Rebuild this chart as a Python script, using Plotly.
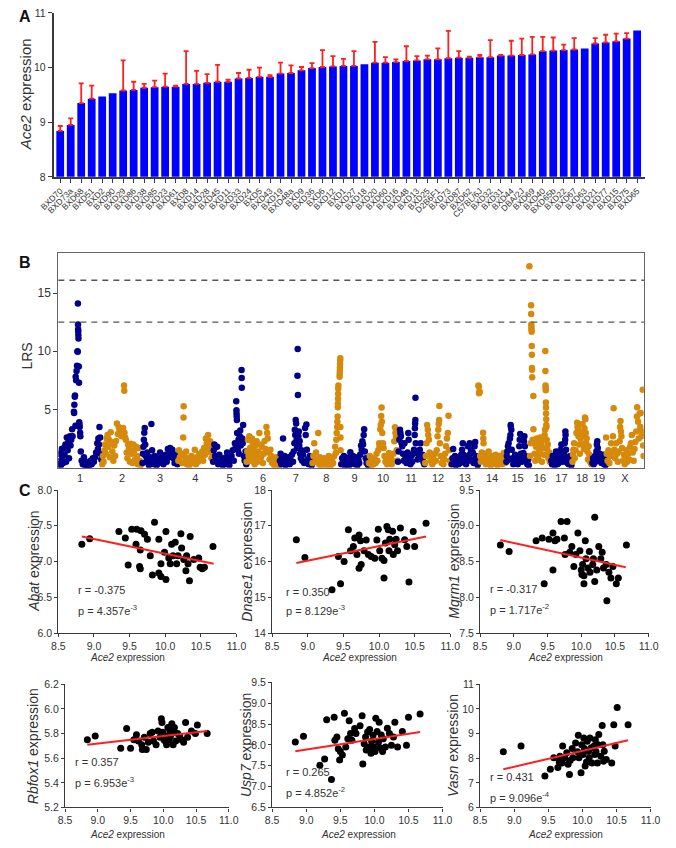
import plotly.graph_objects as go

# ─── DADOS ───────────────────────────────────────────────────
STRAINS = [
    "BXD70", "BXD73a", "BXD68", "BXD51", "BXD2", "BXD90", "BXD29", "BXD86",
    "BXD38", "BXD85", "BXD23", "BXD61", "BXD8", "BXD14", "BXD28", "BXD45",
    "BXD11", "BXD33", "BXD24", "BXD5", "BXD43", "BXD19", "BXD48a", "BXD9",
    "BXD36", "BXD6", "BXD12", "BXD1", "BXD27", "BXD18", "BXD20", "BXD60",
    "BXD16", "BXD48", "BXD13", "BXD25", "D2B6F1", "BXD73", "BXD87", "BXD62",
    "C57BL/6J", "BXD32", "BXD31", "BXD44", "DBA/2J", "BXD69", "BXD40", "BXD65b",
    "BXD22", "BXD67", "BXD63", "BXD21", "BXD77", "BXD15", "BXD75", "BXD65",
]
ACE2_MEAN = [
    8.84, 8.95, 9.35, 9.43, 9.47, 9.53, 9.58, 9.59, 9.63, 9.64, 9.65, 9.65,
    9.70, 9.70, 9.72, 9.74, 9.74, 9.80, 9.81, 9.83, 9.83, 9.89, 9.90, 9.95,
    9.99, 10.01, 10.02, 10.03, 10.03, 10.06, 10.09, 10.09, 10.10, 10.12, 10.13, 10.15,
    10.15, 10.17, 10.18, 10.18, 10.19, 10.19, 10.22, 10.22, 10.23, 10.24, 10.30, 10.31,
    10.32, 10.33, 10.35, 10.44, 10.46, 10.48, 10.53, 10.68,
]
ACE2_SEM = [
    0.09, 0.12, 0.36, 0.24, 0.0, 0.0, 0.55, 0.15, 0.07, 0.12, 0.24, 0.02,
    0.60, 0.24, 0.16, 0.31, 0.04, 0.10, 0.15, 0.17, 0.03, 0.20, 0.14, 0.06,
    0.09, 0.31, 0.19, 0.13, 0.27, 0.0, 0.38, 0.10, 0.05, 0.27, 0.08, 0.07,
    0.20, 0.50, 0.12, 0.02, 0.04, 0.31, 0.01, 0.27, 0.30, 0.32, 0.26, 0.24,
    0.10, 0.21, 0.0, 0.10, 0.14, 0.14, 0.10, 0.0,
]

CHROMS = ["1", "2", "3", "4", "5", "6", "7", "8", "9", "10",
          "11", "12", "13", "14", "15", "16", "17", "18", "19", "X"]
CHR_LEN_MB = [195.5, 182.1, 160.0, 156.5, 151.8, 149.7, 145.4, 129.4, 124.6, 130.7,
              122.1, 120.1, 120.4, 124.9, 104.0, 98.2, 94.9, 90.7, 61.4, 171.0]

# (posição Mb, LRS) por cromossomo
CHR1 = [(2, 0.3), (5, 1.2), (8, 0.6), (12, 0.2), (15, 1.6), (18, 0.9), (22, 0.4), (25, 1.7),
        (28, 1.1), (32, 2.0), (35, 0.5), (38, 2.6), (42, 1.5), (45, 2.2), (48, 0.8), (52, 2.7),
        (55, 1.9), (58, 2.4), (62, 3.3), (64, 2.7), (70, 4.8), (71, 4.7), (72, 5.4), (74, 6.1),
        (75, 6.2), (77, 3.6), (78, 7.8), (80, 7.5), (82, 8.3), (84, 8.75), (86, 10.0), (87, 9.95),
        (88, 14.1), (88.5, 12.3), (89, 11.9), (89.5, 11.7), (90, 11.4), (90.5, 11.1), (92, 8.7),
        (93, 7.3), (94, 3.9), (95, 3.7), (96, 3.5), (98, 3.0), (99, 2.7), (101, 1.4), (105, 0.6),
        (110, 0.3), (115, 0.9), (120, 0.2), (125, 0.5), (130, 0.1), (135, 0.4), (140, 0.2),
        (145, 0.6), (150, 0.3), (155, 0.8), (160, 0.5), (165, 0.9), (170, 1.3), (175, 2.1),
        (178, 1.6), (180, 2.5), (183, 2.0), (185, 3.5), (188, 2.6), (190, 1.2), (193, 0.7)]
CHR2 = [(2, 0.3), (5, 1.0), (8, 0.5), (12, 1.5), (15, 2.0), (18, 1.2), (22, 2.5), (26, 2.8),
        (29, 1.8), (32, 2.4), (36, 0.9), (40, 3.05), (43, 2.2), (47, 1.4), (52, 0.6), (56, 1.9),
        (60, 1.0), (64, 2.3), (68, 3.8), (72, 2.9), (76, 3.5), (80, 3.2), (84, 3.3), (88, 2.7),
        (92, 3.1), (96, 3.4), (100, 7.05), (101, 6.6), (102, 3.0), (105, 2.6), (108, 2.4),
        (112, 1.3), (115, 0.8), (118, 2.0), (122, 1.6), (126, 0.5), (130, 2.06), (134, 1.2),
        (138, 0.4), (142, 2.0), (146, 1.5), (150, 0.7), (154, 1.8), (158, 1.0), (162, 0.3),
        (166, 1.7), (170, 0.6), (175, 0.2), (180, 0.4)]
CHR3 = [(1, 0.4), (3, 1.2), (5, 1.8), (7, 2.4), (9, 3.0), (11, 3.4), (13, 2.0), (15, 1.0),
        (18, 0.5), (22, 1.3), (26, 0.7), (30, 0.2), (35, 0.9), (41, 3.75), (44, 1.5), (48, 0.6),
        (52, 0.3), (56, 1.0), (60, 0.5), (65, 0.2), (70, 0.8), (75, 0.4), (80, 1.3), (85, 0.6),
        (90, 1.0), (95, 0.3), (100, 0.7), (105, 1.1), (110, 0.5), (115, 1.6), (120, 0.9),
        (125, 1.7), (130, 1.2), (135, 1.55), (140, 0.8), (145, 0.4), (150, 1.1), (155, 0.6),
        (158, 0.3)]
CHR4 = [(2, 0.6), (5, 1.5), (9, 0.9), (14, 1.2), (19, 0.4), (24, 2.6), (25.5, 4.3), (26, 5.28),
        (29, 1.0), (33, 0.5), (37, 1.4), (41, 0.3), (46, 0.8), (51, 0.2), (56, 0.6), (61, 1.0),
        (66, 0.4), (71, 0.7), (76, 1.55), (81, 0.3), (86, 0.9), (91, 0.5), (96, 1.2), (101, 0.7),
        (106, 1.0), (110, 1.4), (114, 0.6), (118, 1.7), (122, 1.1), (126, 2.5), (130, 2.1),
        (133, 1.6), (136, 2.8), (139, 2.3), (142, 1.9), (145, 2.26), (148, 1.3), (151, 0.8),
        (154, 2.0)]
CHR5 = [(2, 0.5), (5, 1.5), (8, 2.0), (11, 1.0), (15, 0.6), (20, 1.8), (25, 0.3), (30, 1.1),
        (35, 0.4), (40, 0.8), (45, 0.2), (50, 0.6), (55, 0.3), (60, 0.9), (65, 1.3), (70, 0.5),
        (75, 0.2), (80, 0.7), (85, 1.0), (90, 1.5), (95, 0.6), (100, 2.1), (104, 1.8), (106, 5.7),
        (107, 4.94), (107.5, 4.66), (108, 4.4), (109, 4.1), (110, 2.97), (113, 1.55), (116, 2.4),
        (118, 1.2), (122, 2.7), (124, 3.2), (126, 1.9), (130, 8.4), (130.5, 7.7), (131, 6.86),
        (133, 2.5), (135, 2.1), (137, 3.67), (140, 1.0), (144, 0.6), (148, 1.4), (151, 0.3)]
CHR6 = [(1, 0.5), (4, 1.4), (7, 2.4), (10, 1.0), (13, 2.7), (16, 1.7), (19, 0.6), (22, 1.2),
        (25, 2.5), (28, 2.1), (31, 0.8), (34, 1.5), (37, 0.3), (40, 1.9), (43, 1.0), (46, 2.26),
        (50, 0.5), (54, 1.4), (58, 2.97), (62, 2.0), (66, 0.9), (70, 1.8), (74, 0.4), (78, 1.2),
        (82, 2.3), (86, 1.6), (90, 3.5), (93, 2.97), (96, 2.5), (100, 1.3), (104, 0.7),
        (108, 1.55), (112, 1.0), (116, 0.4), (120, 0.8), (125, 0.2), (130, 0.5), (135, 0.9),
        (140, 0.3), (145, 0.6), (148, 0.2)]
CHR7 = [(1, 0.6), (4, 1.2), (7, 0.3), (10, 0.9), (15, 2.5), (18, 0.5), (22, 1.0), (26, 0.2),
        (30, 0.7), (35, 0.4), (40, 0.9), (45, 0.3), (50, 0.6), (55, 1.1), (60, 0.5), (63, 1.4),
        (66, 2.1), (68, 3.25), (70, 2.8), (72, 4.1), (74, 3.8), (76, 2.4), (78, 1.7), (80, 7.9),
        (81, 10.2), (82, 6.24), (84, 2.7), (86, 3.1), (88, 1.9), (90, 2.3), (92, 1.2), (95, 0.8),
        (98, 1.5), (101, 0.6), (105, 1.1), (110, 0.4), (114, 3.4), (117, 2.8), (120, 3.7),
        (122, 1.55), (126, 0.7), (130, 0.3), (135, 1.0), (140, 0.5), (144, 0.2)]
CHR8 = [(2, 0.4), (6, 1.0), (10, 2.1), (14, 0.5), (18, 1.3), (22, 0.7), (28, 2.97), (32, 0.3),
        (36, 0.9), (40, 0.2), (45, 0.6), (50, 0.3), (55, 0.8), (60, 0.4), (65, 0.2), (70, 0.6),
        (75, 1.0), (80, 0.5), (85, 0.2), (90, 0.7), (95, 0.4), (100, 1.0), (104, 1.8), (107, 1.27),
        (109, 2.4), (111, 2.97), (113, 3.5), (114, 3.95), (115, 4.4), (116, 5.2), (116.5, 5.5),
        (117, 5.93), (117.5, 6.36), (118, 6.8), (118.5, 7.06), (120, 3.5), (124, 7.8),
        (124.5, 8.05), (125, 8.3), (125.5, 8.6), (126, 8.9), (126.5, 9.2), (127, 9.4),
        (127.5, 3.5), (128, 2.6), (128.5, 1.5)]
CHR9 = [(2, 0.3), (6, 0.8), (10, 0.4), (14, 1.0), (18, 0.2), (22, 0.6), (26, 0.3), (30, 0.85),
        (34, 0.5), (38, 0.2), (43, 1.33), (47, 0.7), (51, 0.4), (55, 1.0), (59, 0.6), (63, 0.3),
        (67, 0.9), (71, 0.5), (75, 0.2), (79, 0.7), (83, 0.4), (87, 1.1), (91, 1.9), (94, 1.55),
        (97, 2.26), (100, 2.0), (103, 2.8), (105, 3.3), (108, 1.4), (112, 0.8), (116, 0.4),
        (120, 0.6), (123, 0.2)]
CHR10 = [(2, 0.4), (6, 1.0), (10, 0.5), (14, 0.2), (18, 0.8), (22, 0.3), (27, 0.7), (32, 0.4),
         (36, 1.2), (40, 0.6), (44, 1.5), (48, 2.1), (50, 1.84), (53, 3.3), (55, 3.67),
         (57, 4.44), (59, 5.17), (60, 3.95), (62, 2.97), (65, 2.1), (68, 1.7), (72, 1.0),
         (76, 0.5), (80, 0.8), (84, 0.3), (88, 0.6), (92, 1.27), (96, 0.4), (100, 0.9),
         (104, 0.3), (108, 0.6), (112, 1.2), (116, 2.26), (119, 3.47), (121, 3.0), (124, 2.7),
         (127, 1.5), (130, 0.6)]
CHR11 = [(2, 0.5), (5, 1.4), (8, 2.4), (11, 3.25), (13, 2.97), (15, 2.7), (18, 2.1), (21, 1.84),
         (24, 1.2), (28, 0.6), (31, 2.1), (35, 1.0), (40, 0.4), (45, 1.3), (48, 2.97), (50, 2.4),
         (54, 0.8), (58, 0.3), (62, 1.0), (66, 0.5), (70, 1.2), (74, 1.55), (77, 2.8),
         (78, 3.39), (79, 3.8), (80, 4.1), (80.5, 6.0), (82, 2.1), (85, 1.4), (90, 0.7),
         (95, 1.1), (100, 1.55), (104, 2.1), (108, 0.9), (112, 1.1), (116, 0.5), (120, 0.3)]
CHR12 = [(2, 0.4), (5, 1.0), (8, 2.1), (11, 3.67), (14, 3.25), (16, 2.8), (19, 2.4), (22, 1.3),
         (26, 0.6), (30, 1.0), (34, 0.3), (38, 0.8), (42, 0.5), (46, 1.2), (50, 0.6), (54, 1.5),
         (58, 2.7), (61, 3.25), (63, 3.76), (65, 4.1), (66, 5.3), (68, 2.1), (72, 1.0),
         (76, 0.4), (80, 0.9), (84, 0.3), (88, 0.7), (92, 1.2), (96, 1.84), (100, 2.5),
         (104, 2.97), (107, 4.46), (110, 1.5), (114, 0.6), (118, 0.3)]
CHR13 = [(2, 0.3), (5, 0.8), (8, 1.6), (12, 0.4), (16, 1.0), (20, 0.2), (24, 0.6), (28, 0.9),
         (32, 0.3), (36, 0.7), (40, 0.4), (44, 1.1), (48, 1.55), (51, 2.1), (54, 1.1), (58, 0.5),
         (62, 0.8), (66, 0.3), (70, 1.0), (74, 1.84), (78, 0.6), (82, 2.1), (85, 1.2),
         (88, 1.55), (92, 0.7), (96, 1.3), (100, 0.4), (104, 1.84), (107, 2.2), (110, 1.0),
         (114, 0.5), (118, 0.2)]
CHR14 = [(1, 7.06), (3, 6.98), (4, 6.4), (5, 6.55), (6.5, 6.5), (9, 1.0), (12, 0.5), (16, 1.3),
         (19, 0.7), (22, 3.0), (23, 2.5), (24, 2.1), (27, 1.2), (31, 0.6), (35, 0.3), (39, 0.9),
         (43, 0.4), (47, 1.4), (51, 0.7), (55, 0.2), (59, 0.6), (63, 1.0), (67, 0.3), (71, 0.8),
         (75, 0.4), (79, 1.1), (83, 0.5), (87, 0.2), (91, 0.7), (95, 1.0), (99, 0.4), (103, 0.8),
         (107, 0.3), (111, 0.6), (115, 1.27), (118, 0.9), (122, 0.4)]
CHR15 = [(2, 0.5), (4, 1.0), (6, 1.4), (9, 1.84), (12, 2.1), (15, 0.7), (18, 2.5), (20, 2.8),
         (21, 3.67), (22, 3.5), (24, 3.25), (26, 1.55), (29, 0.8), (33, 0.3), (37, 0.6),
         (41, 1.1), (45, 0.4), (49, 0.8), (53, 0.3), (57, 1.0), (60, 1.84), (62, 2.4), (64, 2.9),
         (67, 1.2), (71, 0.5), (75, 0.9), (78, 1.27), (81, 2.26), (83, 2.7), (85, 1.84),
         (88, 1.0), (92, 0.5), (96, 0.3), (100, 0.7), (103, 0.2)]
CHR16 = [(1.5, 17.3), (4, 1.0), (7, 2.1), (9, 13.95), (9.5, 13.2), (10, 12.3), (10.5, 12.06),
         (11, 11.86), (11.5, 11.67), (12, 10.45), (12.5, 9.7), (13, 8.56), (13.5, 8.42),
         (14, 7.77), (16, 2.4), (19, 6.16), (19.5, 3.3), (22, 2.1), (25, 1.2), (28, 0.6),
         (31, 1.8), (34, 2.5), (37, 1.0), (40, 2.2), (43, 0.7), (46, 1.5), (49, 2.6), (52, 1.2),
         (55, 2.0), (58, 0.5), (61, 1.7), (64, 2.4), (67, 1.1), (70, 2.8), (72, 3.25),
         (73, 10.03), (73.5, 8.3), (74, 7.06), (74.5, 6.86), (75, 6.64), (75.5, 5.6), (76, 5.17),
         (76.5, 4.66), (77, 4.15), (77.5, 3.67), (78, 3.5), (79, 2.4), (81, 1.6), (84, 2.0),
         (87, 0.8), (90, 1.3), (93, 0.5), (96, 0.9)]
CHR17 = [(2, 0.6), (5, 0.3), (8, 1.0), (11, 0.5), (14, 0.8), (17, 0.2), (20, 1.0), (23, 1.4),
         (26, 0.6), (29, 0.3), (32, 0.9), (35, 0.4), (38, 1.2), (41, 0.7), (44, 1.55), (47, 2.0),
         (50, 1.0), (53, 0.5), (56, 0.8), (59, 1.2), (62, 2.1), (64, 2.4), (65, 3.1), (66, 2.8),
         (68, 1.55), (71, 0.9), (74, 0.4), (77, 0.7), (80, 0.3), (83, 0.6), (86, 1.0), (89, 0.4),
         (92, 0.2)]
CHR18 = [(2, 0.5), (4, 1.13), (6, 1.55), (9, 2.1), (12, 0.8), (16, 1.5), (20, 2.97), (23, 3.86),
         (25, 3.5), (27, 3.25), (29, 2.7), (32, 2.0), (35, 1.2), (38, 2.5), (41, 3.0), (44, 2.1),
         (47, 3.76), (50, 2.7), (53, 1.6), (56, 3.39), (58, 4.3), (60, 4.15), (62, 2.97),
         (64, 2.1), (66, 2.5), (69, 1.4), (72, 0.7), (75, 1.84), (78, 1.1), (81, 0.5), (84, 0.9),
         (87, 0.3), (90, 0.6)]
CHR19 = [(1, 0.4), (4, 0.8), (7, 0.3), (10, 0.6), (13, 1.0), (16, 0.5), (19, 1.4), (21, 2.0),
         (23, 2.26), (25, 1.7), (27, 1.27), (30, 0.9), (33, 1.2), (36, 0.6), (39, 1.0), (42, 0.4),
         (45, 0.8), (48, 1.1), (51, 0.5), (54, 0.3), (57, 0.7), (60, 0.2)]
CHRX = [(1, 2.6), (4, 1.2), (8, 0.6), (12, 1.5), (16, 0.4), (20, 1.0), (24, 2.1), (28, 1.3),
        (32, 2.7), (35, 5.1), (38, 1.55), (42, 0.8), (46, 2.1), (50, 1.2), (54, 0.5), (58, 1.4),
        (62, 2.26), (64, 3.5), (66, 4.0), (68, 3.1), (70, 2.7), (73, 1.7), (77, 0.6), (81, 1.1),
        (85, 0.3), (89, 0.9), (93, 1.5), (97, 0.5), (101, 1.2), (105, 0.7), (109, 1.8),
        (113, 2.1), (117, 2.8), (121, 1.3), (125, 0.6), (129, 1.6), (133, 2.2), (137, 3.1),
        (140, 4.4), (141, 5.2), (145, 3.95), (148, 2.5), (152, 4.66), (155, 3.5), (157, 4.7),
        (160, 2.7), (163, 3.1), (166, 6.7), (168, 1.9), (170, 1.0)]
LRS_POINTS = [CHR1, CHR2, CHR3, CHR4, CHR5, CHR6, CHR7, CHR8, CHR9, CHR10,
              CHR11, CHR12, CHR13, CHR14, CHR15, CHR16, CHR17, CHR18, CHR19, CHRX]
LRS_SUGGESTIVE = 12.5
LRS_SIGNIFICANT = 16.1

# correlações (Ace2, gene)
ABAT = [(8.83, 7.24), (8.94, 7.32), (9.35, 7.42), (9.44, 7.33), (9.53, 7.45), (9.60, 7.45),
        (9.66, 7.43), (9.59, 7.24), (9.48, 6.95), (9.65, 7.16), (9.64, 6.93), (9.71, 7.38),
        (9.75, 7.31), (9.79, 7.08), (9.82, 6.81), (9.85, 7.55), (9.91, 7.31), (9.94, 6.97),
        (9.99, 7.13), (10.01, 7.42), (10.05, 7.05), (10.07, 6.97), (10.09, 7.24), (10.11, 7.08),
        (10.14, 7.27), (10.16, 6.97), (10.18, 7.08), (10.22, 7.39), (10.23, 7.19), (10.26, 7.03),
        (10.30, 7.08), (10.32, 6.97), (10.35, 7.35), (10.40, 7.03), (10.47, 7.05), (10.49, 6.92),
        (10.55, 6.92), (10.67, 7.21), (9.91, 6.84), (9.94, 6.79), (10.01, 6.75), (10.34, 6.73),
        (10.29, 6.87), (9.65, 6.90), (10.52, 6.90)]
DNASE1 = [(8.84, 16.61), (8.96, 16.11), (9.43, 16.14), (9.51, 16.0), (9.57, 16.89), (9.60, 16.3),
          (9.64, 16.42), (9.66, 16.66), (9.69, 16.2), (9.72, 16.74), (9.74, 16.58), (9.75, 15.92),
          (9.79, 16.3), (9.82, 16.6), (9.85, 16.2), (9.89, 16.14), (9.94, 16.09), (9.97, 16.6),
          (9.99, 16.9), (10.01, 16.3), (10.04, 16.09), (10.07, 16.03), (10.09, 16.52),
          (10.11, 16.98), (10.13, 16.89), (10.14, 16.3), (10.15, 16.62), (10.19, 16.85),
          (10.20, 16.2), (10.22, 16.47), (10.24, 16.62), (10.26, 16.3), (10.30, 16.94),
          (10.36, 16.61), (10.39, 16.42), (10.48, 16.84), (10.50, 16.42), (10.66, 17.07),
          (9.34, 15.21), (9.46, 15.38), (10.07, 15.54), (10.42, 15.43), (9.72, 15.81)]
MGRM1 = [(8.80, 8.73), (8.93, 8.64), (9.33, 8.79), (9.42, 8.83), (9.52, 8.81), (9.58, 8.90),
         (9.61, 8.79), (9.64, 8.81), (9.70, 9.06), (9.75, 8.83), (9.76, 8.60), (9.79, 9.06),
         (9.83, 8.63), (9.86, 8.71), (9.89, 8.43), (9.92, 8.60), (9.95, 8.90), (9.98, 8.65),
         (10.0, 8.38), (10.02, 8.46), (10.04, 8.30), (10.06, 8.79), (10.07, 8.54), (10.10, 8.41),
         (10.12, 8.64), (10.13, 8.35), (10.17, 8.46), (10.18, 8.54), (10.20, 9.12), (10.23, 8.38),
         (10.26, 8.71), (10.29, 8.54), (10.31, 8.63), (10.33, 8.41), (10.37, 8.46), (10.41, 8.35),
         (10.44, 8.27), (10.47, 8.43), (10.67, 8.73), (9.45, 8.19), (9.58, 8.38), (10.01, 8.32),
         (10.04, 8.19), (10.20, 8.22), (10.38, 7.95), (10.52, 8.19), (10.55, 8.27)]
RBFOX1 = [(8.84, 5.75), (8.96, 5.78), (9.35, 5.68), (9.44, 5.84), (9.50, 5.68), (9.55, 5.75),
          (9.59, 5.79), (9.62, 5.74), (9.67, 5.71), (9.68, 5.67), (9.71, 5.77), (9.74, 5.67),
          (9.77, 5.73), (9.80, 5.80), (9.83, 5.81), (9.85, 5.74), (9.89, 5.71), (9.92, 5.82),
          (9.95, 5.77), (9.97, 5.92), (9.98, 5.89), (9.99, 5.81), (10.01, 5.75), (10.03, 5.74),
          (10.04, 5.78), (10.05, 5.71), (10.07, 5.85), (10.09, 5.75), (10.10, 5.82), (10.11, 5.78),
          (10.13, 5.88), (10.15, 5.71), (10.16, 5.81), (10.17, 5.85), (10.19, 5.74), (10.22, 5.80),
          (10.25, 5.78), (10.28, 5.75), (10.31, 5.73), (10.34, 5.89), (10.37, 5.77), (10.43, 5.82),
          (10.49, 5.80), (10.52, 5.87), (10.67, 5.80)]
USP7 = [(8.84, 8.07), (8.96, 8.21), (9.20, 7.51), (9.27, 7.66), (9.30, 8.60), (9.41, 8.66),
        (9.37, 7.17), (9.42, 8.11), (9.45, 8.19), (9.47, 7.91), (9.49, 7.64), (9.50, 7.84),
        (9.53, 7.76), (9.56, 8.76), (9.58, 7.95), (9.61, 8.15), (9.63, 8.58), (9.65, 8.27),
        (9.67, 8.11), (9.71, 8.39), (9.73, 8.27), (9.79, 8.46), (9.82, 8.70), (9.83, 7.54),
        (9.85, 8.03), (9.87, 8.19), (9.88, 7.88), (9.90, 8.31), (9.92, 7.95), (9.93, 8.37),
        (9.95, 7.80), (9.96, 8.09), (9.98, 8.23), (9.99, 7.95), (10.01, 7.84), (10.02, 8.64),
        (10.04, 8.32), (10.06, 8.07), (10.07, 8.54), (10.08, 7.93), (10.10, 8.24), (10.12, 7.84),
        (10.13, 8.15), (10.16, 7.95), (10.19, 8.40), (10.22, 8.27), (10.25, 7.99), (10.28, 8.19),
        (10.30, 8.54), (10.34, 7.95), (10.41, 8.32), (10.47, 7.99), (10.50, 8.66), (10.67, 8.74)]
VASN = [(8.84, 8.26), (9.10, 8.49), (9.45, 7.28), (9.53, 7.55), (9.58, 8.02), (9.64, 7.62),
        (9.66, 7.85), (9.67, 8.08), (9.70, 7.81), (9.71, 8.49), (9.74, 8.02), (9.77, 8.22),
        (9.79, 7.75), (9.81, 7.34), (9.82, 7.91), (9.85, 8.39), (9.86, 8.02), (9.90, 8.62),
        (9.93, 8.26), (9.94, 8.93), (9.95, 8.02), (9.98, 7.41), (9.99, 8.55), (10.01, 8.15),
        (10.02, 8.82), (10.03, 8.39), (10.04, 7.68), (10.06, 7.85), (10.07, 8.69), (10.09, 8.28),
        (10.10, 8.02), (10.11, 8.82), (10.13, 8.42), (10.14, 7.81), (10.17, 8.49), (10.18, 8.15),
        (10.19, 8.75), (10.20, 8.26), (10.22, 7.81), (10.23, 8.55), (10.24, 8.96), (10.27, 8.08),
        (10.29, 9.33), (10.30, 8.55), (10.31, 7.88), (10.32, 8.28), (10.35, 7.95), (10.43, 7.81),
        (10.46, 9.36), (10.48, 8.49), (10.51, 10.06), (10.67, 9.36)]
# retas de regressão (x0, y0, x1, y1)
FITS = [(8.83, 7.35, 10.68, 6.97), (8.84, 15.96, 10.66, 16.70), (8.80, 8.80, 10.66, 8.42),
        (8.84, 5.71, 10.67, 5.82), (8.84, 7.85, 10.67, 8.31), (8.84, 7.55, 10.67, 8.73)]
GENES = ["Abat", "Dnase1", "Mgrm1", "Rbfox1", "Usp7", "Vasn"]
R_TEXT = ["r = -0.375", "r = 0.350", "r = -0.317", "r = 0.357", "r = 0.265", "r = 0.431"]
P_TEXT = ["p = 4.357e<sup>-3</sup>", "p = 8.129e<sup>-3</sup>", "p = 1.717e<sup>-2</sup>",
          "p = 6.953e<sup>-3</sup>", "p = 4.852e<sup>-2</sup>", "p = 9.096e<sup>-4</sup>"]
Y_TICKS = [[6.0, 6.5, 7.0, 7.5, 8.0], [14, 15, 16, 17, 18], [7.5, 8.0, 8.5, 9.0, 9.5],
           [5.2, 5.4, 5.6, 5.8, 6.0, 6.2], [6.5, 7.0, 7.5, 8.0, 8.5, 9.0, 9.5], [6, 7, 8, 9, 10, 11]]
X_TICKS = [8.5, 9.0, 9.5, 10.0, 10.5, 11.0]

# ─── ESTILO ─────────────────────────────────────────────────
W, H = 676, 848
FONTE = "Arial, Liberation Sans, sans-serif"
FONTE_ESTREITA = "Liberation Sans Narrow, Arial Narrow, Arial, Liberation Sans, sans-serif"
COR_TEXTO = "#333333"
COR_EIXO = "#3a3a3a"
AZUL = "#0000ff"
VERMELHO = "#ff1f1f"
MARINHO = "#00008b"
DOURADO = "#d68a0c"


def dom_x(a, b):
    return [a / W, b / W]


def dom_y(top, bottom):
    return [1 - bottom / H, 1 - top / H]


def eixo(**kw):
    base = dict(showline=True, linecolor=COR_EIXO, linewidth=1.2, ticks="outside",
                ticklen=4, tickcolor=COR_EIXO, showgrid=False, zeroline=False,
                tickfont=dict(size=10.5, color=COR_TEXTO))
    base.update(kw)
    return base


fig = go.Figure()
anns = []


def texto(x, y, t, size=11, angle=0, anchor="center", family=FONTE, cor=COR_TEXTO):
    anns.append(dict(x=x / W, y=1 - y / H, xref="paper", yref="paper", text=t,
                     showarrow=False, textangle=angle, xanchor=anchor, yanchor="middle",
                     font=dict(size=size, color=cor, family=family)))


# ─── A: barras ──────────────────────────────────────────────
fig.add_trace(go.Bar(x=STRAINS, y=ACE2_MEAN, marker=dict(color=AZUL, line=dict(width=0)),
                     xaxis="x", yaxis="y", showlegend=False))
com_erro = [i for i, e in enumerate(ACE2_SEM) if e > 0]
fig.add_trace(go.Scatter(
    x=[STRAINS[i] for i in com_erro], y=[ACE2_MEAN[i] for i in com_erro],
    mode="markers", marker=dict(opacity=0), showlegend=False, xaxis="x", yaxis="y",
    error_y=dict(type="data", symmetric=False, array=[ACE2_SEM[i] for i in com_erro],
                 arrayminus=[0] * len(com_erro), color=VERMELHO, thickness=1.8, width=2.5),
))

# ─── B: mapa de QTL ─────────────────────────────────────────
inicio = []
acc = 0.0
for L in CHR_LEN_MB:
    inicio.append(acc)
    acc += L
total_mb = acc
centros = [s + L / 2 for s, L in zip(inicio, CHR_LEN_MB)]

for k, pts in enumerate(LRS_POINTS):
    fig.add_trace(go.Scatter(
        x=[inicio[k] + p for p, _ in pts], y=[v for _, v in pts],
        mode="markers", marker=dict(size=6.5, color=MARINHO if k % 2 == 0 else DOURADO),
        showlegend=False, xaxis="x2", yaxis="y2",
    ))

shapes = []
for nivel in (LRS_SUGGESTIVE, LRS_SIGNIFICANT):
    shapes.append(dict(type="line", xref="x2 domain", yref="y2", x0=0, x1=1, y0=nivel, y1=nivel,
                       line=dict(color="#555555", width=1.3, dash="6px,5px")))

# ─── C: correlações ─────────────────────────────────────────
series = [ABAT, DNASE1, MGRM1, RBFOX1, USP7, VASN]
dom_cx = [(45, 230), (267, 452), (483, 658), (52, 222), (267, 444), (483, 660)]
dom_cy = [(491, 636), (491, 636), (491, 636), (688, 813), (686, 813), (688, 813)]
ytit_x = [19, 240, 455, 19, 240, 455]
xtit_x = [117, 358, 572, 117, 357, 572]
txt_x = [63, 279, 491, 60, 279, 491]
r_y = [592, 594, 591, 767, 777, 782]
p_y = [613, 613, 612, 787, 797, 802]

layout_axes = {}
for i, pts in enumerate(series):
    n = i + 3
    xa, ya = f"x{n}", f"y{n}"
    fig.add_trace(go.Scatter(x=[p[0] for p in pts], y=[p[1] for p in pts], mode="markers",
                             marker=dict(size=7, color="#000000"), showlegend=False,
                             xaxis=xa, yaxis=ya))
    x0, y0, x1, y1 = FITS[i]
    fig.add_trace(go.Scatter(x=[x0, x1], y=[y0, y1], mode="lines",
                             line=dict(color=VERMELHO, width=2), showlegend=False,
                             xaxis=xa, yaxis=ya))
    yt = Y_TICKS[i]
    layout_axes[f"xaxis{n}"] = eixo(domain=dom_x(*dom_cx[i]), anchor=ya, range=[8.5, 11.0],
                                    tickvals=X_TICKS, tickformat=".1f", ticklen=3,
                                    tickfont=dict(size=10.5, color=COR_TEXTO,
                                                  family=FONTE_ESTREITA))
    layout_axes[f"yaxis{n}"] = eixo(domain=dom_y(*dom_cy[i]), anchor=xa,
                                    range=[yt[0], yt[-1]], tickvals=yt, ticklen=3,
                                    tickformat="d" if i in (1, 5) else ".1f",
                                    tickfont=dict(size=10.5, color=COR_TEXTO,
                                                  family=FONTE_ESTREITA))
    cy = (dom_cy[i][0] + dom_cy[i][1]) / 2
    texto(ytit_x[i], cy, f"<i>{GENES[i]}</i> expression", size=14, angle=-90)
    texto(xtit_x[i], 661 if i < 3 else 840, "<i>Ace2</i> expression", size=10,
          family=FONTE_ESTREITA)
    texto(txt_x[i], r_y[i], R_TEXT[i], size=11, anchor="left", family=FONTE_ESTREITA)
    texto(txt_x[i], p_y[i], P_TEXT[i], size=11, anchor="left", family=FONTE_ESTREITA)

# rótulos gerais
texto(11, 90, "<i>Ace2</i> expression", size=15, angle=-90)
texto(12, 355, "LRS", size=14, angle=-90)
texto(10, 11, "<b>A</b>", size=16, cor="#111111")
texto(10, 260, "<b>B</b>", size=16, cor="#111111")
texto(10, 491, "<b>C</b>", size=16, cor="#111111")

fig.update_layout(
    width=W, height=H, autosize=False,
    margin=dict(l=0, r=0, t=0, b=0),
    paper_bgcolor="#ffffff", plot_bgcolor="rgba(0,0,0,0)",
    font=dict(family=FONTE, color=COR_TEXTO, size=11),
    showlegend=False, bargap=0.26,
    xaxis=eixo(domain=dom_x(40, 654), anchor="y", type="category", range=[-0.64, 55.73],
               tickmode="array", tickvals=STRAINS, ticktext=STRAINS,
               tickangle=-45, tickfont=dict(size=8.5, color=COR_TEXTO), linewidth=1.5),
    yaxis=eixo(domain=dom_y(7, 173.3), anchor="x", range=[8, 11], tickvals=[8, 9, 10, 11],
               linewidth=1.5),
    xaxis2=eixo(domain=dom_x(45, 653), anchor="y2", range=[0, total_mb], tickvals=centros,
                ticktext=CHROMS, ticks="", mirror=True, linecolor="#666666",
                tickfont=dict(size=11, color=COR_TEXTO)),
    yaxis2=eixo(domain=dom_y(251, 468.3), anchor="x2", range=[0, 18.4], tickvals=[5, 10, 15],
                mirror=True, linecolor="#666666", tickfont=dict(size=12, color=COR_TEXTO)),
    shapes=shapes,
    annotations=anns,
    **layout_axes,
)

# tira a margem padrão do <body> para a figura ficar colada no canto
fig.write_html("out.html", config={"displayModeBar": False},
               post_script="document.body.style.margin='0px';")
